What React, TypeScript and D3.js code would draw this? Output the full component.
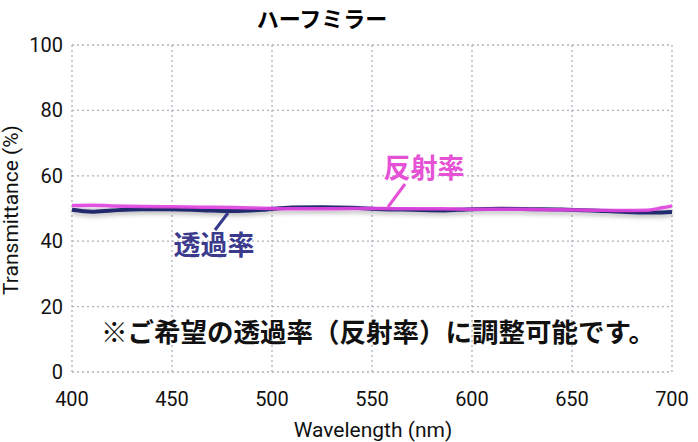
import React from "react";
import * as d3 from "d3";

const wavelengths = [400, 410, 420, 435, 450, 465, 480, 495, 510, 525, 540, 555, 570, 585, 600, 615, 630, 645, 660, 675, 688, 695, 700];
const transmittance = [49.6, 49.0, 49.4, 49.8, 49.8, 49.5, 49.2, 49.6, 50.3, 50.4, 50.2, 49.8, 49.6, 49.4, 49.8, 49.9, 49.8, 49.7, 49.4, 49.0, 48.8, 48.8, 48.9];
const reflectance = [50.9, 51.0, 50.8, 50.6, 50.5, 50.4, 50.3, 50.1, 49.9, 49.9, 50.0, 50.0, 49.9, 49.9, 49.8, 49.8, 49.7, 49.6, 49.5, 49.4, 49.5, 50.2, 50.8];
const xTicks = [400, 450, 500, 550, 600, 650, 700];
const yTicks = [0, 20, 40, 60, 80, 100];

const title = "ハーフミラー";
const xTitle = "Wavelength (nm)";
const yTitle = "Transmittance (%)";
const note = "※ご希望の透過率（反射率）に調整可能です。";

export default function App() {
  const W = 698, H = 442;
  const x = d3.scaleLinear().domain([400, 700]).range([72, 672]);
  const y = d3.scaleLinear().domain([0, 100]).range([372, 45]);
  const tData = wavelengths.map((w, i) => [w, transmittance[i]] as [number, number]);
  const rData = wavelengths.map((w, i) => [w, reflectance[i]] as [number, number]);
  const line = d3.line<[number, number]>().x(d => x(d[0])).y(d => y(d[1])).curve(d3.curveMonotoneX);
  const font = "Roboto, 'Noto Sans CJK JP', sans-serif";
  const jp = "'Noto Sans CJK JP', sans-serif";
  return (
    <svg width={W} height={H} style={{ position: "absolute", left: 0, top: 0, background: "#fff" }}>
      <defs>
        <filter id="sh" x="-10%" y="-100%" width="120%" height="400%">
          <feDropShadow dx="0" dy="3" stdDeviation="2" floodColor="#000" floodOpacity="0.25" />
        </filter>
      </defs>
      {xTicks.map(t => (
        <line key={"gx" + t} x1={x(t)} x2={x(t)} y1={y(100)} y2={y(0)} stroke="#aeb2bd" strokeWidth={1.3} strokeDasharray="2 3" />
      ))}
      {yTicks.map(t => (
        <line key={"gy" + t} x1={x(400)} x2={x(700)} y1={y(t)} y2={y(t)} stroke="#aeb2bd" strokeWidth={1.3} strokeDasharray="2 3" />
      ))}
      {yTicks.map(t => (
        <text key={"ty" + t} x={x(400) - 9} y={y(t)} dy="0.35em" textAnchor="end" fontFamily={font} fontSize={20} fill="#111">{t}</text>
      ))}
      {xTicks.map(t => (
        <text key={"tx" + t} x={x(t)} y={399} dy="0.35em" textAnchor="middle" fontFamily={font} fontSize={20} fill="#111">{t}</text>
      ))}
      <text x={373} y={430} dy="0.35em" textAnchor="middle" fontFamily={font} fontSize={21} fill="#111">{xTitle}</text>
      <text transform={`translate(11,${210}) rotate(-90)`} dy="0.35em" textAnchor="middle" fontFamily={font} fontSize={21} fill="#111">{yTitle}</text>
      <text x={322} y={19} dy="0.35em" textAnchor="middle" fontFamily={jp} fontWeight="bold" fontSize={22} fill="#000">{title}</text>
      <g filter="url(#sh)">
        <path d={line(tData) || ""} fill="none" stroke="#202a6e" strokeWidth={4} />
        <path d={line(rData) || ""} fill="none" stroke="#df45df" strokeWidth={3.5} opacity={0.92} />
      </g>
      <line x1={215} y1={230} x2={228} y2={213} stroke="#35398a" strokeWidth={3} />
      <text x={214} y={246} dy="0.35em" textAnchor="middle" fontFamily={jp} fontWeight="bold" fontSize={27} fill="#3b3a8c">透過率</text>
      <line x1={388} y1={207} x2={405} y2={184} stroke="#e552d6" strokeWidth={3} />
      <text x={424} y={169} dy="0.35em" textAnchor="middle" fontFamily={jp} fontWeight="bold" fontSize={27} fill="#e552d6">反射率</text>
      <text x={378} y={333} dy="0.35em" textAnchor="middle" fontFamily={jp} fontWeight="bold" fontSize={26.5} fill="#111">{note}</text>
    </svg>
  );
}
